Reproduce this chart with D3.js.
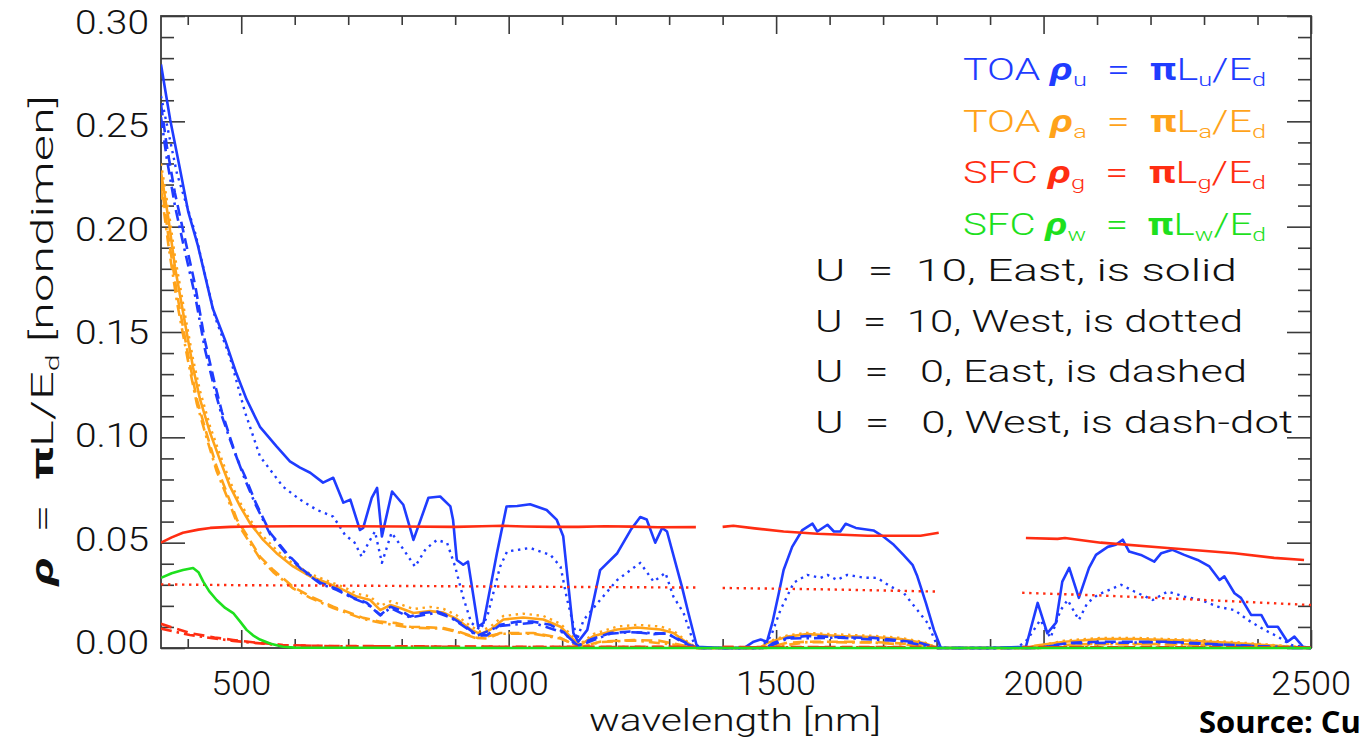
<!DOCTYPE html>
<html>
<head>
<meta charset="utf-8">
<script src="https://cdn.jsdelivr.net/npm/d3@7"></script>
<style>
  html, body { margin: 0; padding: 0; background: #fff; }
  svg { display: block; }
  text { white-space: pre; }
</style>
</head>
<body>
<div id="chart"></div>
<script>
// Reflectance spectra: TOA upwelling (u), TOA aerosol/path (a), surface glint (g), water-leaving (w)
// Each series is [wavelength nm, reflectance]; null marks missing bands.

const wavelengthTicks = [500, 1000, 1500, 2000, 2500];
const reflectanceTicks = [0.00, 0.05, 0.10, 0.15, 0.20, 0.25, 0.30];

// TOA rho_u
const toaU_u10East = [[350,.277],[367,.251],[385,.228],[401,.207],[419,.191],[447,.161],[470,.146],[490,.131],[510,.118],[535,.105],[566,.0957],[591,.0886],[610,.0856],[629,.0832],[653,.0785],[672,.0808],[691,.069],[704,.0704],[722,.056],[728,.057],[744,.0713],[754,.076],[763,.053],[782,.0743],[803,.068],[822,.0513],[850,.0713],[872,.0719],[891,.0672],[896,.0609],[903,.0418],[915,.0395],[924,.041],[943,.0101],[953,.0119],[978,.045],[996,.0672],[1016,.0674],[1040,.0682],[1071,.0655],[1090,.0608],[1102,.053],[1121,.0071],[1130,.003],[1147,.0086],[1171,.037],[1203,.045],[1228,.056],[1246,.0622],[1258,.061],[1274,.05],[1287,.057],[1296,.0553],[1324,.029],[1336,.0166],[1352,.0006],[1400,0],[1440,0],[1458,.003],[1471,.004],[1483,.003],[1493,.012],[1505,.026],[1514,.037],[1530,.048],[1549,.056],[1568,.059],[1577,.0553],[1596,.0585],[1608,.0553],[1620,.0553],[1630,.059],[1649,.057],[1682,.0558],[1701,.0528],[1720,.049],[1738,.0442],[1755,.0395],[1764,.034],[1780,.0214],[1795,.0086],[1808,0],[1900,0],[1967,.0006],[1989,.0214],[2007,.007],[2023,.0119],[2035,.0315],[2048,.038],[2066,.0238],[2085,.038],[2098,.0442],[2120,.048],[2135,.049],[2148,.0514],[2160,.0458],[2182,.0442],[2207,.041],[2220,.045],[2241,.0466],[2263,.0442],[2288,.0418],[2310,.0387],[2329,.0323],[2338,.034],[2357,.026],[2369,.0238],[2388,.0157],[2407,.0157],[2419,.0101],[2438,.0101],[2456,.003],[2469,.0054],[2485,.0006],[2500,0]];
const toaU_u10West = [[350,.262],[380,.225],[414,.197],[451,.157],[479,.138],[507,.112],[535,.091],[578,.0766],[610,.0704],[641,.0656],[672,.0624],[694,.0537],[712,.05],[725,.0434],[738,.05],[750,.0553],[763,.0404],[781,.0547],[800,.048],[825,.0386],[845,.047],[866,.0513],[885,.0498],[900,.0386],[915,.024],[930,.012],[947,.0086],[960,.015],[984,.0386],[997,.0458],[1040,.0475],[1078,.0442],[1097,.0386],[1109,.0233],[1128,.004],[1140,.0133],[1171,.0228],[1203,.0323],[1246,.0404],[1271,.0315],[1293,.0357],[1308,.0244],[1327,.0166],[1346,.0024],[1360,0],[1470,0],[1490,.0054],[1508,.018],[1533,.031],[1558,.0347],[1583,.0333],[1596,.0347],[1614,.0323],[1633,.0347],[1664,.0334],[1689,.0333],[1714,.0292],[1739,.026],[1764,.018],[1783,.0119],[1802,.0006],[1820,0],[1950,0],[1970,.004],[1994,.0133],[2013,.0048],[2032,.018],[2045,.0228],[2066,.0133],[2082,.0214],[2101,.0252],[2123,.0276],[2145,.03],[2170,.0268],[2204,.0228],[2232,.0268],[2263,.0244],[2294,.0228],[2326,.0196],[2357,.018],[2382,.0133],[2413,.0086],[2438,.0054],[2463,.0014],[2500,0]];
const toaU_u0East = [[350,.258],[361,.238],[376,.216],[395,.194],[414,.172],[432,.146],[451,.125],[464,.112],[479,.1],[492,.09],[507,.0815],[526,.0696],[554,.0547],[585,.045],[616,.037],[648,.031],[679,.028],[710,.0238],[722,.0228],[735,.0214],[760,.0157],[779,.0196],[797,.018],[816,.0149],[840,.0166],[866,.0173],[891,.0149],[915,.011],[941,.006],[959,.006],[984,.011],[1016,.0125],[1046,.0125],[1078,.011],[1103,.0075],[1121,.0025],[1130,.0012],[1153,.004],[1190,.0071],[1228,.0078],[1271,.0066],[1296,.0071],[1327,.0024],[1352,0],[1480,0],[1495,.0024],[1521,.0048],[1558,.0057],[1620,.0051],[1682,.0048],[1733,.0035],[1770,.0024],[1802,0],[1990,0],[2045,.0024],[2107,.003],[2230,.003],[2357,.0014],[2469,0],[2500,0]];
const toaU_u0West = [[350,.252],[361,.232],[376,.21],[395,.188],[414,.167],[432,.142],[451,.122],[464,.11],[479,.099],[507,.08],[526,.0685],[554,.054],[585,.0445],[616,.0365],[648,.0305],[679,.0275],[710,.0235],[735,.021],[760,.0155],[779,.019],[816,.0145],[866,.0168],[891,.0145],[915,.0105],[941,.0058],[984,.0105],[1046,.012],[1103,.0072],[1130,.001],[1190,.0068],[1228,.0075],[1296,.0068],[1352,0],[1480,0],[1521,.0045],[1620,.0049],[1733,.0033],[1802,0],[1990,0],[2045,.0022],[2230,.0028],[2357,.0012],[2500,0]];

// TOA rho_a
const toaA_u10East = [[350,.226],[364,.2035],[376,.181],[395,.154],[410,.133],[423,.118],[442,.102],[460,.0894],[479,.0767],[498,.0672],[516,.0594],[541,.0513],[566,.045],[597,.0387],[629,.034],[660,.031],[691,.0276],[716,.0244],[741,.0228],[760,.018],[779,.0204],[797,.019],[822,.0166],[853,.0175],[878,.0168],[903,.0138],[928,.009],[947,.0066],[966,.0088],[990,.0135],[1027,.0145],[1065,.0135],[1097,.0101],[1121,.004],[1134,.0014],[1158,.0056],[1203,.0088],[1240,.0097],[1284,.0088],[1308,.0071],[1334,.0024],[1352,0],[1470,0],[1483,.0024],[1521,.0054],[1558,.0066],[1620,.0057],[1682,.0052],[1733,.0043],[1776,.0024],[1802,0],[1970,0],[1983,.001],[2039,.003],[2107,.0043],[2170,.0043],[2263,.0035],[2357,.0024],[2463,.0006],[2500,0]];
const toaA_u10West = [[350,.23],[364,.208],[376,.186],[395,.158],[410,.137],[423,.122],[442,.105],[460,.092],[479,.079],[498,.069],[516,.061],[541,.053],[566,.0465],[597,.04],[629,.0352],[660,.032],[691,.029],[716,.0258],[741,.0245],[760,.02],[779,.0222],[797,.0208],[822,.0185],[853,.0195],[878,.0186],[903,.0155],[928,.0105],[947,.0078],[966,.0102],[990,.0152],[1027,.0163],[1065,.0152],[1097,.0115],[1121,.005],[1134,.002],[1158,.0066],[1203,.0102],[1240,.011],[1284,.0102],[1308,.0082],[1334,.003],[1352,0],[1470,0],[1483,.0028],[1521,.006],[1558,.0072],[1620,.0064],[1682,.0058],[1733,.0048],[1776,.0028],[1802,0],[1970,0],[2039,.0035],[2107,.0048],[2170,.0048],[2263,.004],[2357,.0028],[2463,.0008],[2500,0]];
const toaA_u0East = [[350,.222],[364,.195],[380,.168],[400,.14],[417,.118],[435,.102],[454,.086],[473,.0737],[492,.0609],[516,.0513],[535,.0434],[560,.037],[597,.029],[629,.0245],[672,.0196],[700,.017],[728,.0143],[760,.0125],[791,.0118],[816,.0101],[850,.0098],[878,.0095],[910,.0075],[941,.0048],[960,.0045],[984,.0071],[1046,.0071],[1097,.0048],[1121,.0018],[1134,.0005],[1171,.003],[1233,.0038],[1280,.0035],[1320,.0015],[1352,0],[1480,0],[1521,.0025],[1558,.003],[1620,.003],[1682,.0028],[1733,.0022],[1776,.0012],[1802,0],[1990,0],[2045,.0015],[2107,.002],[2263,.0018],[2400,.001],[2500,0]];
const toaA_u0West = [[350,.218],[364,.191],[380,.164],[400,.137],[417,.116],[435,.1],[454,.084],[473,.072],[492,.0595],[516,.05],[535,.0425],[560,.036],[597,.0283],[629,.0238],[672,.019],[728,.0138],[760,.012],[816,.0097],[878,.0092],[910,.0072],[941,.0045],[984,.0068],[1046,.0068],[1097,.0045],[1134,.0004],[1171,.0028],[1233,.0036],[1320,.0013],[1352,0],[1480,0],[1558,.0028],[1682,.0026],[1776,.001],[1802,0],[1990,0],[2107,.0018],[2263,.0016],[2500,0]];

// SFC rho_g
const sfcG_u10East = [[350,.05],[370,.0525],[391,.0547],[420,.0562],[442,.057],[480,.0575],[516,.0577],[600,.0578],[700,.0578],[800,.0577],[900,.0575],[950,.0578],[990,.058],[1030,.0577],[1080,.0575],[1130,.0575],[1180,.0578],[1230,.0576],[1280,.0573],[1350,.0574],[1375,null],[1400,.0575],[1420,.058],[1460,.0568],[1514,.0553],[1577,.0542],[1671,.0533],[1770,.0533],[1804,.0547],[1880,null],[1967,.0522],[2026,.0518],[2040,.0522],[2107,.05],[2232,.0475],[2357,.045],[2431,.0428],[2487,.0418]];
const sfcG_u10West = [[350,.0302],[500,.0298],[700,.0296],[900,.0293],[1100,.029],[1350,.0287],[1375,null],[1400,.0285],[1600,.0278],[1800,.0268],[1880,null],[1960,.0262],[2100,.025],[2300,.0228],[2500,.0204]];
const sfcG_u0East = [[350,.0115],[380,.009],[404,.0071],[450,.005],[485,.0038],[530,.0025],[578,.0014],[650,.001],[800,.0008],[1000,.0006],[1350,.0005],[1375,null],[1400,.0005],[1800,.0004],[1880,null],[1960,.0004],[2500,.0003]];
const sfcG_u0West = [[350,.0092],[380,.0075],[404,.0062],[450,.0045],[485,.0034],[530,.0023],[578,.0013],[650,.0009],[800,.0007],[1000,.0005],[1350,.0004],[1375,null],[1400,.0004],[1800,.0003],[1880,null],[1960,.0003],[2500,.0002]];

// SFC rho_w
const sfcW_u10East = [[350,.0333],[370,.0355],[391,.037],[410,.038],[420,.036],[429,.0315],[440,.027],[454,.0228],[470,.019],[485,.0166],[498,.0125],[510,.0086],[522,.006],[535,.004],[555,.002],[578,.0006],[600,.0002],[700,.0001],[1000,0],[2500,0]];

const BLUE = '#1f3cff', ORANGE = '#ffa31a', RED = '#ff2d12', GREEN = '#1ee01e';
const STYLE = {
  solid:   { dash: null,         width: 2.6 },
  dotted:  { dash: '2.4,4.6',    width: 2.4 },
  dashed:  { dash: '11,6',       width: 2.6 },
  dashdot: { dash: '11,5,2.5,5', width: 2.6 }
};

const series = [
  { data: toaA_u0West,  color: ORANGE, style: 'dashdot' },
  { data: toaA_u0East,  color: ORANGE, style: 'dashed' },
  { data: toaA_u10West, color: ORANGE, style: 'dotted' },
  { data: toaA_u10East, color: ORANGE, style: 'solid' },
  { data: toaU_u0West,  color: BLUE,   style: 'dashdot' },
  { data: toaU_u0East,  color: BLUE,   style: 'dashed' },
  { data: toaU_u10West, color: BLUE,   style: 'dotted' },
  { data: toaU_u10East, color: BLUE,   style: 'solid' },
  { data: sfcG_u0West,  color: RED,    style: 'dashdot' },
  { data: sfcG_u0East,  color: RED,    style: 'dashed' },
  { data: sfcG_u10West, color: RED,    style: 'dotted' },
  { data: sfcG_u10East, color: RED,    style: 'solid' },
  { data: sfcW_u10East, color: GREEN,  style: 'solid' }
];

const W = 1361, H = 744;
const plot = { left: 161, right: 1311, top: 16, bottom: 648 };
const FONT = 'Roboto, "DejaVu Sans", sans-serif';
const FW = 300;

const svg = d3.select('#chart').append('svg')
  .attr('width', W).attr('height', H)
  .attr('viewBox', `0 0 ${W} ${H}`);
svg.append('rect').attr('width', W).attr('height', H).attr('fill', '#fff');

const x = d3.scaleLinear().domain([350, 2500]).range([plot.left, plot.right]);
const y = d3.scaleLinear().domain([0, 0.30]).range([plot.bottom, plot.top]);
// tick labels sit slightly inside the end ticks
const yLabel = d3.scaleLinear().domain([0, 0.30]).range([642, 22]);

const minorX = x.ticks(21).filter(v => !wavelengthTicks.includes(v));
const minorY = y.ticks(30).filter(v => !reflectanceTicks.some(t => Math.abs(t - v) < 1e-9));

// Frame
svg.append('rect')
  .attr('x', plot.left).attr('y', plot.top)
  .attr('width', plot.right - plot.left).attr('height', plot.bottom - plot.top)
  .attr('fill', 'none').attr('stroke', '#3a3a3a').attr('stroke-width', 1.8);

// Inward-pointing ticks on all four sides
function tickAxis(axisFn, scale, values, size, tx, ty) {
  const g = svg.append('g').attr('transform', `translate(${tx},${ty})`)
    .call(axisFn(scale).tickValues(values).tickSize(-size).tickFormat(''));
  g.select('.domain').remove();
  g.selectAll('.tick line').attr('stroke', '#3a3a3a').attr('stroke-width', 1.6);
  return g;
}
tickAxis(d3.axisBottom, x, minorX, 9, 0, plot.bottom);
tickAxis(d3.axisBottom, x, wavelengthTicks, 18, 0, plot.bottom);
tickAxis(d3.axisTop, x, minorX, 9, 0, plot.top);
tickAxis(d3.axisTop, x, wavelengthTicks, 18, 0, plot.top);
tickAxis(d3.axisLeft, y, minorY, 13, plot.left, 0);
tickAxis(d3.axisLeft, y, reflectanceTicks, 24, plot.left, 0);
tickAxis(d3.axisRight, y, minorY, 13, plot.right, 0);
tickAxis(d3.axisRight, y, reflectanceTicks, 24, plot.right, 0);

// Curves (drawn over the frame so near-zero spectra stay visible along the bottom)
const clipId = 'plotClip';
svg.append('clipPath').attr('id', clipId).append('rect')
  .attr('x', plot.left).attr('y', plot.top - 2)
  .attr('width', plot.right - plot.left).attr('height', plot.bottom - plot.top + 4);

const line = d3.line()
  .defined(d => d[1] !== null)
  .x(d => x(d[0]))
  .y(d => y(d[1]));

const curves = svg.append('g').attr('clip-path', `url(#${clipId})`);
series.forEach(s => {
  const st = STYLE[s.style];
  curves.append('path')
    .attr('d', line(s.data))
    .attr('fill', 'none')
    .attr('stroke', s.color)
    .attr('stroke-width', st.width)
    .attr('stroke-linejoin', 'round')
    .attr('stroke-dasharray', st.dash);
});

// Tick labels
svg.append('g').selectAll('text').data(reflectanceTicks).join('text')
  .attr('x', 149).attr('y', d => yLabel(d) + 12)
  .attr('text-anchor', 'end')
  .attr('font-family', FONT).attr('font-weight', FW).attr('font-size', 34).attr('fill', '#111')
  .attr('textLength', 74).attr('lengthAdjust', 'spacingAndGlyphs')
  .text(d => d.toFixed(2));

svg.append('g').selectAll('text').data(wavelengthTicks).join('text')
  .attr('x', d => x(d)).attr('y', 695)
  .attr('text-anchor', 'middle')
  .attr('font-family', FONT).attr('font-weight', FW).attr('font-size', 34).attr('fill', '#111')
  .attr('textLength', d => String(d).length * 20).attr('lengthAdjust', 'spacingAndGlyphs')
  .text(d => d);

// Axis titles
svg.append('text')
  .attr('x', 735).attr('y', 731)
  .attr('text-anchor', 'middle')
  .attr('font-family', FONT).attr('font-weight', FW).attr('font-size', 32).attr('fill', '#111')
  .attr('textLength', 292).attr('lengthAdjust', 'spacingAndGlyphs')
  .text('wavelength [nm]');

const yTitle = svg.append('text')
  .attr('transform', 'translate(53,340) rotate(-90)')
  .attr('text-anchor', 'middle')
  .attr('font-family', FONT).attr('font-weight', FW).attr('font-size', 32).attr('fill', '#111')
  .attr('textLength', 490).attr('lengthAdjust', 'spacingAndGlyphs');
yTitle.append('tspan').attr('font-weight', 'bold').attr('font-style', 'italic').text('ρ');
yTitle.append('tspan').text('  =  ');
yTitle.append('tspan').attr('font-weight', 'bold').text('π');
yTitle.append('tspan').text('L/E');
yTitle.append('tspan').attr('font-size', 19).attr('dy', 6).text('d');
yTitle.append('tspan').attr('dy', -6).text(' [nondimen]');

// Legend: quantities
const legendRows = [
  { prefix: 'TOA', sub: 'u', color: BLUE },
  { prefix: 'TOA', sub: 'a', color: ORANGE },
  { prefix: 'SFC', sub: 'g', color: RED },
  { prefix: 'SFC', sub: 'w', color: GREEN }
];
legendRows.forEach((r, i) => {
  const t = svg.append('text')
    .attr('x', 963).attr('y', 80 + i * 51.5)
    .attr('font-family', FONT).attr('font-weight', FW).attr('font-size', 31).attr('fill', r.color)
    .attr('textLength', 303).attr('lengthAdjust', 'spacingAndGlyphs');
  t.append('tspan').text(r.prefix + ' ');
  t.append('tspan').attr('font-weight', 'bold').attr('font-style', 'italic').text('ρ');
  t.append('tspan').attr('font-size', 19).attr('dy', 6).text(r.sub);
  t.append('tspan').attr('dy', -6).text('  =  ');
  t.append('tspan').attr('font-weight', 'bold').text('π');
  t.append('tspan').text('L');
  t.append('tspan').attr('font-size', 19).attr('dy', 6).text(r.sub);
  t.append('tspan').attr('dy', -6).text('/E');
  t.append('tspan').attr('font-size', 19).attr('dy', 6).text('d');
});

// Legend: line styles
const styleRows = [
  { text: 'U  =  10, East, is solid',    len: 422 },
  { text: 'U  =  10, West, is dotted',   len: 428 },
  { text: 'U  =   0, East, is dashed',   len: 432 },
  { text: 'U  =   0, West, is dash-dot', len: 478 }
];
styleRows.forEach((r, i) => {
  svg.append('text')
    .attr('x', 815).attr('y', 281 + i * 50.5)
    .attr('font-family', FONT).attr('font-weight', FW).attr('font-size', 31).attr('fill', '#111')
    .attr('textLength', r.len).attr('lengthAdjust', 'spacingAndGlyphs')
    .text(r.text);
});

// Source note
svg.append('text')
  .attr('x', 1199).attr('y', 733)
  .attr('font-family', '"Open Sans", sans-serif').attr('font-weight', 700)
  .attr('font-size', 31).attr('fill', '#000')
  .text('Source: Cu');
</script>
</body>
</html>
